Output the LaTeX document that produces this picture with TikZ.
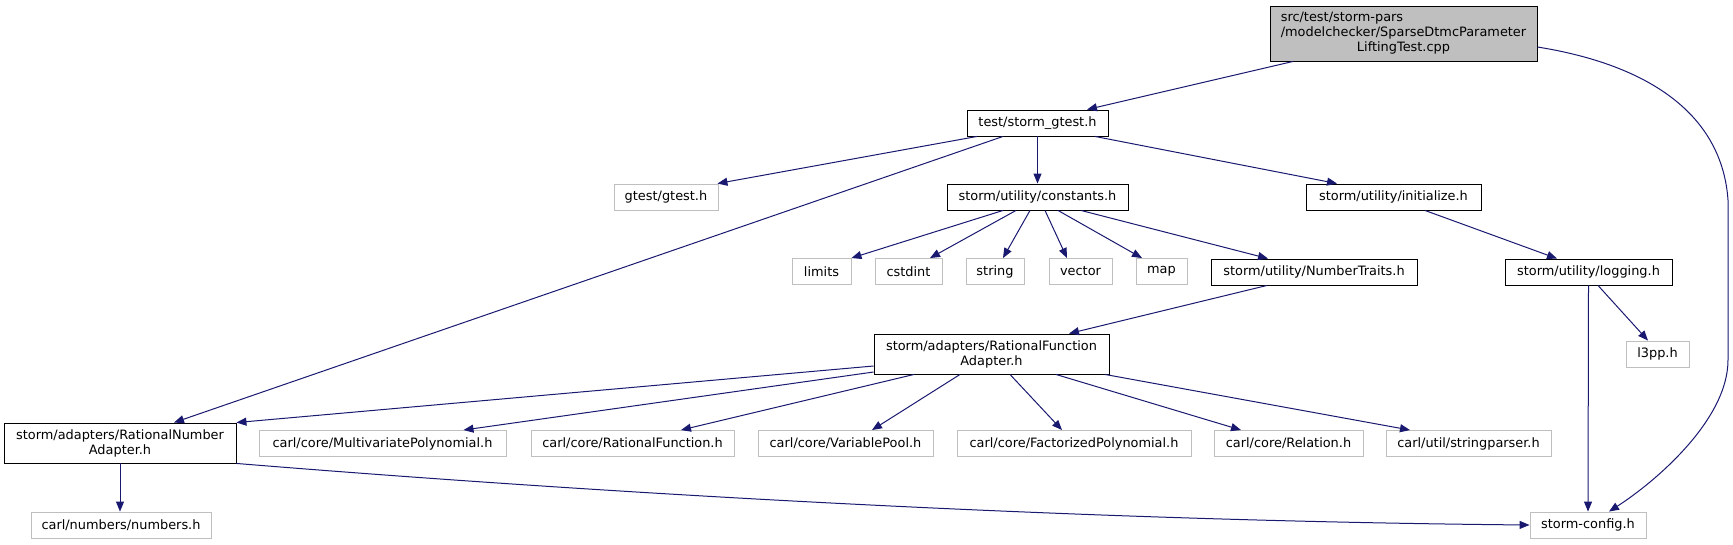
\documentclass[tikz,border=0pt]{standalone}
\usepackage{fontspec}
\setmainfont{DejaVu Sans}
\usetikzlibrary{arrows.meta}
\definecolor{edgec}{HTML}{191970}
\definecolor{grayb}{HTML}{BFBFBF}
\definecolor{rootfill}{HTML}{BFBFBF}
\begin{document}
\begin{tikzpicture}[x=1pt,y=-1pt,
  every node/.style={font=\fontsize{12.9}{15}\selectfont, inner sep=0pt, anchor=center, align=center},
  hbox/.style={draw=black, line width=0.9pt, fill=white, minimum height=26pt},
  gbox/.style={draw=grayb, line width=0.9pt, fill=white, minimum height=26pt},
  dep/.style={draw=edgec, line width=1pt, -{Triangle[length=10pt,width=8pt]}}]
\useasboundingbox (0,0) rectangle (1733,544);
% nodes
\node[hbox, fill=rootfill, minimum width=267pt, minimum height=55pt] (root) at (1403.5,33.5)
  {\begin{tabular}{@{}l@{}}src/test/storm-pars\\/modelchecker/SparseDtmcParameter\\\multicolumn{1}{@{}c@{}}{LiftingTest.cpp}\end{tabular}};
\node[hbox, minimum width=141pt] (sg) at (1037.5,123) {test/storm\_gtest.h};
\node[gbox, minimum width=104pt] (gt) at (666,197) {gtest/gtest.h};
\node[hbox, minimum width=181pt] (cs) at (1037.5,197) {storm/utility/constants.h};
\node[hbox, minimum width=175pt] (ini) at (1393.5,197) {storm/utility/initialize.h};
\node[gbox, minimum width=59pt] (lim) at (821.5,271.5) {limits};
\node[gbox, minimum width=67pt] (cst) at (908.5,271.5) {cstdint};
\node[gbox, minimum width=58pt] (str) at (995,271.5) {string};
\node[gbox, minimum width=63pt] (vec) at (1080.5,271.5) {vector};
\node[gbox, minimum width=51pt] (map) at (1161.5,271.5) {map};
\node[hbox, minimum width=206pt] (nt) at (1314,272) {storm/utility/NumberTraits.h};
\node[hbox, minimum width=167pt] (log) at (1588.5,272) {storm/utility/logging.h};
\node[gbox, minimum width=63pt] (l3) at (1657.5,354) {l3pp.h};
\node[hbox, minimum width=235pt, minimum height=40pt] (rfa) at (991.5,354) {storm/adapters/RationalFunction\\Adapter.h};
\node[hbox, minimum width=232pt, minimum height=40pt] (rna) at (120,443) {storm/adapters/RationalNumber\\Adapter.h};
\node[gbox, minimum width=247pt] (mp) at (382.5,443.5) {carl/core/MultivariatePolynomial.h};
\node[gbox, minimum width=203pt] (rf) at (632.5,443.5) {carl/core/RationalFunction.h};
\node[gbox, minimum width=175pt] (vp) at (845.5,443.5) {carl/core/VariablePool.h};
\node[gbox, minimum width=234pt] (fp) at (1074,443.5) {carl/core/FactorizedPolynomial.h};
\node[gbox, minimum width=149pt] (rel) at (1288.5,443.5) {carl/core/Relation.h};
\node[gbox, minimum width=165pt] (sp) at (1468.5,443.5) {carl/util/stringparser.h};
\node[gbox, minimum width=180pt] (num) at (121,525) {carl/numbers/numbers.h};
\node[gbox, minimum width=116pt] (sc) at (1588,525) {storm-config.h};
% edges
\draw[dep] ([xshift=-110.5pt]root.south) -- ([xshift=49.5pt]sg.north);
\draw[dep] ([yshift=-13.5pt]root.east) .. controls (1650,65) and (1722,115) .. (1728,200)
  -- (1728,360) .. controls (1728,420) and (1655,482) .. ([xshift=21pt]sc.north);
\draw[dep] ([xshift=-60.5pt]sg.south) -- ([xshift=-1pt]gt.north east);
\draw[dep] ([xshift=-34.5pt]sg.south) -- ([xshift=54pt]rna.north);
\draw[dep] (sg.south) -- (cs.north);
\draw[dep] ([xshift=57.5pt]sg.south) -- ([xshift=-56.5pt]ini.north);
\draw[dep] ([xshift=-34.5pt]cs.south) -- (lim.north east);
\draw[dep] ([xshift=-21.5pt]cs.south) -- ([xshift=21.5pt]cst.north);
\draw[dep] ([xshift=-7.5pt]cs.south) -- ([xshift=8pt]str.north);
\draw[dep] ([xshift=7.5pt]cs.south) -- ([xshift=-13.5pt]vec.north);
\draw[dep] ([xshift=20.5pt]cs.south) -- ([xshift=-19.5pt]map.north);
\draw[dep] ([xshift=43.5pt]cs.south) -- ([xshift=-46pt]nt.north);
\draw[dep] ([xshift=31.5pt]ini.south) -- ([xshift=-31.5pt]log.north);
\draw[dep] ([xshift=-47pt]nt.south) -- ([xshift=77.5pt]rfa.north);
\draw[dep] ([xshift=9.5pt]log.south) -- ([xshift=-9.5pt]l3.north);
\draw[dep] (log.south) -- (sc.north);
\draw[dep] ([yshift=-12pt]rfa.west) -- (rna.north east);
\draw[dep] ([yshift=-18pt]rfa.west) -- ([xshift=81pt]mp.north);
\draw[dep] ([xshift=-77.5pt]rfa.south) -- ([xshift=48.5pt]rf.north);
\draw[dep] ([xshift=-31.5pt]rfa.south) -- ([xshift=26.5pt]vp.north);
\draw[dep] ([xshift=18.5pt]rfa.south) -- ([xshift=-12pt]fp.north);
\draw[dep] ([xshift=64.5pt]rfa.south) -- ([xshift=-47.5pt]rel.north);
\draw[dep] ([xshift=113.5pt]rfa.south) -- ([xshift=-58.5pt]sp.north);
\draw[dep] (rna.south) -- (rna.south |- num.north);
\draw[dep] (rna.south east) .. controls (500,485) and (1000,520) .. (sc.west);
\end{tikzpicture}
\end{document}
